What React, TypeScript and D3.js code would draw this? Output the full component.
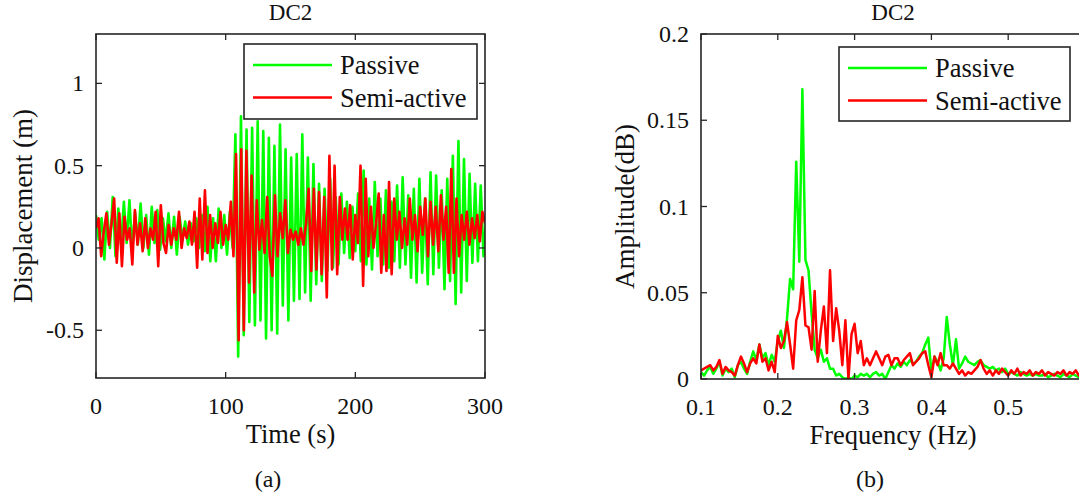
import React from "react";
import * as d3 from "d3";

// ---------- DATA ----------
// (a) time series, passive: alternating extrema on a 2.15 s half-period grid
const passiveStep = 2.15;
const passiveDisp = [
  0.20, 0.05, 0.18, -0.07, 0.22, 0.0, 0.31, -0.05, 0.24, 0.02,
  0.28, 0.03, 0.29, -0.02, 0.22, 0.02, 0.27, 0.0, 0.20, -0.04,
  0.25, 0.03, 0.23, -0.01, 0.18, 0.04, 0.21, 0.0, 0.19, -0.04,
  0.19, 0.05, 0.16, 0.02, 0.15, 0.04, 0.18, 0.0, 0.20, -0.02,
  0.25, -0.08, 0.18, -0.08, 0.24, 0.0, 0.20, -0.04, 0.22, 0.0,
  0.69, -0.66, 0.80, -0.53, 0.72, -0.45, 0.73, -0.47, 0.77, -0.44,
  0.71, -0.55, 0.67, -0.50, 0.62, -0.52, 0.75, -0.35, 0.60, -0.44,
  0.55, -0.32, 0.57, -0.31, 0.69, -0.27, 0.55, -0.32, 0.51, -0.22,
  0.39, -0.20, 0.36, -0.14, 0.42, -0.12, 0.31, -0.10, 0.33, -0.03,
  0.28, -0.06, 0.25, -0.02, 0.33, -0.08, 0.47, -0.10, 0.30, -0.13,
  0.40, -0.05, 0.30, -0.10, 0.35, -0.12, 0.28, -0.08, 0.38, -0.12,
  0.43, -0.10, 0.32, -0.18, 0.36, -0.21, 0.42, -0.15, 0.30, -0.22,
  0.46, -0.16, 0.44, -0.12, 0.35, -0.25, 0.42, -0.20, 0.56, -0.34,
  0.65, -0.27, 0.54, -0.20, 0.45, -0.09, 0.39, -0.08, 0.38, -0.05,
  0.20,
];
// semi-active: 2 s grid
const semiStep = 2.0;
const semiDisp = [
  0.12, 0.18, -0.05, 0.10, 0.21, 0.02, 0.15, 0.30, -0.09, 0.21,
  -0.11, 0.19, 0.05, 0.12, -0.10, 0.23, 0.02, 0.15, -0.02, 0.18,
  0.0, 0.12, 0.05, 0.22, -0.11, 0.26, 0.03, -0.03, 0.14, 0.02,
  0.12, 0.05, 0.22, 0.0, 0.12, 0.06, 0.16, 0.02, 0.22, -0.12,
  0.30, -0.07, 0.35, -0.03, 0.20, 0.0, 0.15, 0.03, 0.22, 0.02,
  0.14, 0.05, 0.28, -0.05, 0.57, -0.56, 0.60, -0.50, 0.59, -0.21,
  0.44, -0.27, 0.29, -0.01, 0.17, -0.03, 0.31, -0.05, -0.17, 0.32,
  -0.05, 0.21, 0.06, 0.29, -0.03, 0.11, 0.05, 0.10, 0.02, 0.12,
  0.02, 0.15, 0.36, -0.14, 0.36, -0.13, 0.34, -0.16, 0.31, -0.30,
  0.56, -0.13, 0.50, -0.16, 0.31, 0.05, 0.24, 0.05, 0.26, -0.07,
  0.20, 0.03, 0.50, -0.23, 0.42, -0.05, 0.25, 0.0, 0.15, 0.33,
  -0.15, 0.20, -0.14, 0.40, -0.16, 0.30, 0.05, 0.22, 0.0, 0.18,
  0.02, 0.30, 0.05, 0.20, -0.02, 0.25, 0.08, 0.30, -0.05, 0.28,
  0.02, 0.25, -0.02, 0.32, 0.05, 0.25, -0.15, 0.48, -0.15, 0.30,
  -0.05, 0.20, 0.05, 0.22, 0.02, 0.18, 0.06, 0.20, 0.04, 0.22,
  0.15,
];

// (b) spectra on a 0.004 Hz grid starting at 0.1 Hz
const freqStart = 0.1;
const freqStep = 0.004;
const passiveAmp = [
  0.004, 0.002, 0.005, 0.007, 0.003, 0.006, 0.010, 0.002, 0.006, 0.004,
  0.006, 0.001, 0.008, 0.010, 0.006, 0.003, 0.010, 0.016, 0.011, 0.020,
  0.012, 0.015, 0.008, 0.014, 0.010, 0.022, 0.028, 0.018, 0.035, 0.058,
  0.052, 0.126, 0.068, 0.168, 0.069, 0.063, 0.038, 0.017, 0.012, 0.017,
  0.010, 0.012, 0.006, 0.006, 0.002, 0.003, 0.001, 0.000, 0.001, 0.000,
  0.002, 0.001, 0.003, 0.002, 0.003, 0.001, 0.003, 0.004, 0.002, 0.003,
  0.000, 0.004, 0.008, 0.006, 0.009, 0.007, 0.010, 0.008, 0.011, 0.009,
  0.010, 0.013, 0.015, 0.020, 0.024, 0.004, 0.013, 0.010, 0.005, 0.012,
  0.036, 0.020, 0.008, 0.023, 0.006, 0.009, 0.013, 0.010, 0.009, 0.008,
  0.010, 0.011, 0.008, 0.007, 0.006, 0.007, 0.005, 0.006, 0.004, 0.006,
  0.003, 0.004, 0.003, 0.002, 0.004, 0.003, 0.002, 0.003, 0.002, 0.003,
  0.002, 0.002, 0.003, 0.001, 0.002, 0.003, 0.002, 0.001, 0.003, 0.002,
  0.001, 0.003, 0.002, 0.001, 0.003, 0.002,
];
const semiAmp = [
  0.005, 0.006, 0.007, 0.008, 0.005, 0.007, 0.011, 0.003, 0.007, 0.005,
  0.004, 0.002, 0.008, 0.013, 0.009, 0.004, 0.009, 0.012, 0.009, 0.020,
  0.010, 0.012, 0.005, 0.010, 0.004, 0.025, 0.018, 0.022, 0.033, 0.020,
  0.006, 0.034, 0.040, 0.059, 0.031, 0.030, 0.017, 0.051, 0.010, 0.028,
  0.042, 0.015, 0.063, 0.022, 0.041, 0.028, 0.008, 0.034, 0.000, 0.026,
  0.032, 0.015, 0.022, 0.008, 0.012, 0.008, 0.012, 0.016, 0.012, 0.008,
  0.013, 0.014, 0.008, 0.012, 0.012, 0.008, 0.011, 0.013, 0.015, 0.008,
  0.010, 0.012, 0.015, 0.016, 0.008, 0.001, 0.013, 0.008, 0.015, 0.008,
  0.008, 0.006, 0.009, 0.006, 0.003, 0.005, 0.002, 0.004, 0.003, 0.005,
  0.007, 0.011, 0.006, 0.003, 0.005, 0.002, 0.005, 0.003, 0.006, 0.004,
  0.002, 0.005, 0.003, 0.006, 0.002, 0.004, 0.003, 0.005, 0.002, 0.004,
  0.003, 0.005, 0.002, 0.004, 0.003, 0.002, 0.004, 0.003, 0.005, 0.002,
  0.004, 0.003, 0.005, 0.002, 0.004, 0.003,
];

const seriesNames = ["Passive", "Semi-active"];
const seriesColors = ["#00ff00", "#ff0000"];

const timeTicks = [0, 100, 200, 300];
const dispTicks = [-0.5, 0, 0.5, 1];
const freqTicks = [0.1, 0.2, 0.3, 0.4, 0.5];
const ampTicks = [0, 0.05, 0.1, 0.15, 0.2];

// ---------- LAYOUT ----------
const W = 1079;
const H = 500;
const FONT = "'Liberation Serif', 'Times New Roman', serif";
const FS = 24;
const LFS = 26.5;
const AX = "#262626";

type Pt = [number, number];

function Panel(props: {
  id: string;
  x0: number; x1: number; y0: number; y1: number;
  xDomain: [number, number]; yDomain: [number, number];
  xTicks: number[]; yTicks: number[];
  xFmt: (v: number) => string; yFmt: (v: number) => string;
  series: Pt[][]; lineW: number;
  xLabel: string; yLabel: string; yLabelX: number;
  title: string; sub: string; subX: number;
  legend: { x: number; y: number; w: number; h: number };
}) {
  const p = props;
  const xs = d3.scaleLinear().domain(p.xDomain).range([p.x0, p.x1]);
  const ys = d3.scaleLinear().domain(p.yDomain).range([p.y1, p.y0]);
  const line = d3.line<Pt>().x((d) => xs(d[0])).y((d) => ys(d[1]));
  const tl = 6;
  const cx = (p.x0 + p.x1) / 2;
  const cy = (p.y0 + p.y1) / 2;
  const lg = p.legend;
  return (
    <g>
      <defs>
        <clipPath id={p.id}>
          <rect x={p.x0} y={p.y0} width={p.x1 - p.x0} height={p.y1 - p.y0} />
        </clipPath>
      </defs>
      <g clipPath={`url(#${p.id})`}>
        {p.series.map((s, i) => (
          <path key={i} d={line(s) || ""} fill="none" stroke={seriesColors[i]}
            strokeWidth={p.lineW} strokeLinejoin="round" />
        ))}
      </g>
      {p.xTicks.map((t) => (
        <g key={"x" + t}>
          <line x1={xs(t)} x2={xs(t)} y1={p.y1} y2={p.y1 - tl} stroke={AX} strokeWidth={1.3} />
          <line x1={xs(t)} x2={xs(t)} y1={p.y0} y2={p.y0 + tl} stroke={AX} strokeWidth={1.3} />
          <text x={xs(t)} y={p.y1 + 36} textAnchor="middle" fontSize={FS} fontFamily={FONT} fill="#111">
            {p.xFmt(t)}
          </text>
        </g>
      ))}
      {p.yTicks.map((t) => (
        <g key={"y" + t}>
          <line x1={p.x0} x2={p.x0 + tl} y1={ys(t)} y2={ys(t)} stroke={AX} strokeWidth={1.3} />
          <line x1={p.x1} x2={p.x1 - tl} y1={ys(t)} y2={ys(t)} stroke={AX} strokeWidth={1.3} />
          <text x={p.x0 - 12} y={ys(t) + 8} textAnchor="end" fontSize={FS} fontFamily={FONT} fill="#111">
            {p.yFmt(t)}
          </text>
        </g>
      ))}
      <rect x={p.x0} y={p.y0} width={p.x1 - p.x0} height={p.y1 - p.y0} fill="none" stroke={AX} strokeWidth={1.6} />
      <rect x={lg.x} y={lg.y} width={lg.w} height={lg.h} fill="#fff" stroke={AX} strokeWidth={1.6} />
      {seriesNames.map((n, i) => {
        const ly = lg.y + 21 + i * 32.5;
        return (
          <g key={n}>
            <line x1={lg.x + 9} x2={lg.x + 88} y1={ly} y2={ly} stroke={seriesColors[i]} strokeWidth={2.5} />
            <text x={lg.x + 96} y={ly + 9} fontSize={LFS} fontFamily={FONT} fill="#111">{n}</text>
          </g>
        );
      })}
      <text x={cx} y={20} textAnchor="middle" fontSize={23} fontFamily={FONT} fill="#111">{p.title}</text>
      <text x={cx} y={p.y1 + 65} textAnchor="middle" fontSize={LFS} fontFamily={FONT} fill="#111">{p.xLabel}</text>
      <text transform={`translate(${p.yLabelX},${cy}) rotate(-90)`} textAnchor="middle" fontSize={27}
        fontFamily={FONT} fill="#111">{p.yLabel}</text>
      <text x={p.subX} y={487} textAnchor="middle" fontSize={FS} fontFamily={FONT} fill="#111">{p.sub}</text>
    </g>
  );
}

export default function App() {
  const passiveTS: Pt[] = passiveDisp.map((v, i) => [i * passiveStep, v]);
  const semiTS: Pt[] = semiDisp.map((v, i) => [i * semiStep, v]);
  const passiveF: Pt[] = passiveAmp.map((v, i) => [freqStart + i * freqStep, v]);
  const semiF: Pt[] = semiAmp.map((v, i) => [freqStart + i * freqStep, v]);
  const fmt = (v: number) => String(+v.toFixed(2));
  return (
    <svg width={W} height={H} style={{ position: "absolute", left: 0, top: 0, background: "#fff" }}>
      <rect width={W} height={H} fill="#fff" />
      <Panel id="clipA" x0={96} x1={485} y0={34} y1={378}
        xDomain={[0, 300]} yDomain={[-0.79, 1.3]}
        xTicks={timeTicks} yTicks={dispTicks} xFmt={fmt} yFmt={fmt}
        series={[passiveTS, semiTS]} lineW={2.6}
        xLabel="Time (s)" yLabel="Displacement (m)" yLabelX={32}
        title="DC2" sub="(a)" subX={268}
        legend={{ x: 244, y: 44, w: 233, h: 75 }} />
      <Panel id="clipB" x0={701} x1={1085} y0={34} y1={379}
        xDomain={[0.1, 0.6]} yDomain={[0, 0.2]}
        xTicks={freqTicks} yTicks={ampTicks} xFmt={fmt} yFmt={fmt}
        series={[passiveF, semiF]} lineW={2.5}
        xLabel="Frequency (Hz)" yLabel="Amplitude(dB)" yLabelX={634}
        title="DC2" sub="(b)" subX={870}
        legend={{ x: 839, y: 47, w: 231, h: 74 }} />
    </svg>
  );
}
